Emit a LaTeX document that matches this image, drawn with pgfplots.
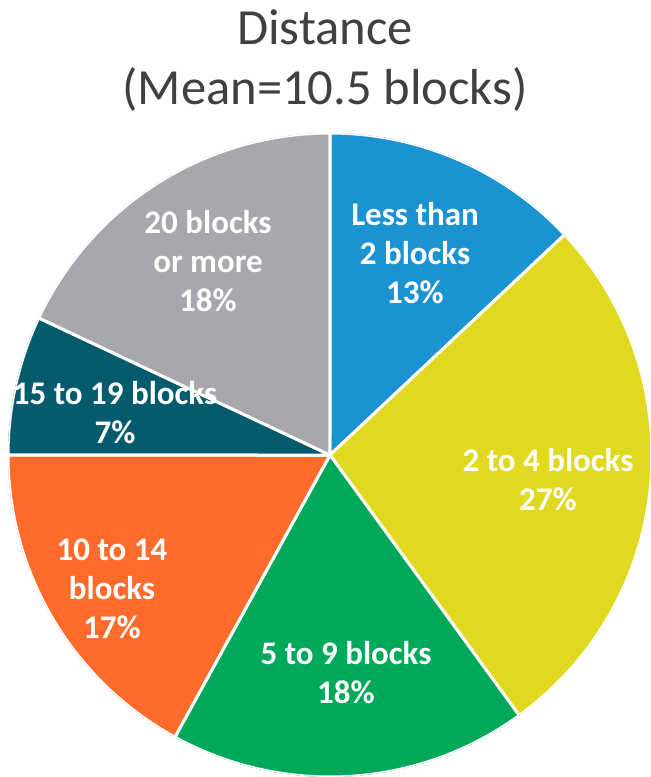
\documentclass[border=0pt]{standalone}
\usepackage{fontspec}
\setmainfont{Carlito}
\usepackage{pgfplots}
\usepackage{pgfplotstable}
\usepgfplotslibrary{polar}
\pgfplotsset{compat=1.18}
\definecolor{cA}{HTML}{1B93D2}
\definecolor{cB}{HTML}{E0D91F}
\definecolor{cC}{HTML}{00A85A}
\definecolor{cD}{HTML}{FF6B2B}
\definecolor{cE}{HTML}{045B6E}
\definecolor{cF}{HTML}{A6A8AB}
\definecolor{titlegray}{HTML}{404040}
\pgfplotstableread{
pct col
13 cA
27 cB
18 cC
17 cD
7 cE
18 cF
}\piedata
\begin{document}
\begin{tikzpicture}
\path[use as bounding box] (0,0) rectangle (325pt,388.5pt);
\clip (0,0) rectangle (325pt,388.5pt);
\begin{polaraxis}[hide axis, scale only axis, width=322pt, height=322pt,
  ymin=0, ymax=1, at={(165pt,161pt)}, anchor=center]
\pgfplotstablegetrowsof{\piedata}
\pgfmathtruncatemacro{\nrows}{\pgfplotsretval-1}
\gdef\cum{0}
\foreach \i in {0,...,\nrows}{
  \pgfplotstablegetelem{\i}{pct}\of{\piedata}\let\p\pgfplotsretval
  \pgfplotstablegetelem{\i}{col}\of{\piedata}\let\c\pgfplotsretval
  \pgfmathsetmacro{\st}{90-\cum*3.6}
  \pgfmathsetmacro{\en}{90-(\cum+\p)*3.6}
  \edef\temp{\noexpand\addplot[fill=\c, draw=white, line width=1.5pt, line join=round, domain=\en:\st, samples=90] {1} -- (axis cs:0,0) -- cycle;}
  \temp
  \pgfmathsetmacro{\newcum}{\cum+\p}
  \xdef\cum{\newcum}
}
\end{polaraxis}
\begin{scope}[every node/.style={text=white, font=\fontsize{16.5}{19.5}\selectfont\bfseries, align=center}]
\node at (207.5pt,262pt) {Less than\\2 blocks\\13\%};
\node at (274pt,148.5pt) {2 to 4 blocks\\27\%};
\node at (173pt,52pt) {5 to 9 blocks\\18\%};
\node at (56pt,94pt) {10 to 14\\blocks\\17\%};
\node at (57.5pt,182pt) {15 to 19 blocks\\7\%};
\node at (104pt,258pt) {20 blocks\\or more\\18\%};
\end{scope}
\node[anchor=base, text=titlegray, font=\fontsize{25.3}{30}\selectfont] at (162.5pt,366pt) {Distance};
\node[anchor=base, text=titlegray, font=\fontsize{25.3}{30}\selectfont] at (162.5pt,336pt) {(Mean=10.5 blocks)};
\end{tikzpicture}
\end{document}
